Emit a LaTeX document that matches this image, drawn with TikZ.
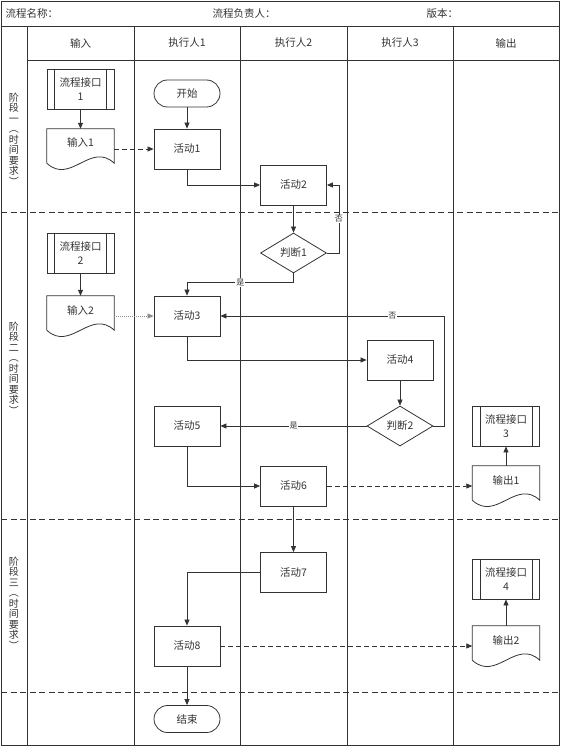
\documentclass[tikz,border=0pt]{standalone}
\usepackage{fontspec}
\setmainfont{Noto Sans CJK SC}
\usetikzlibrary{arrows.meta,shapes.geometric,calc}
\definecolor{ln}{HTML}{333333}
\newcommand\pdbars[1]{\draw[ln,line width=0.8pt] ($(#1.north west)+(8,0)$) -- ($(#1.south west)+(8,0)$) ($(#1.north east)+(-8,0)$) -- ($(#1.south east)+(-8,0)$);}
\newcommand\docshape[1]{\draw[ln,line width=0.8pt] (#1.north west) -- ($(#1.south west)+(0,-6)$) .. controls +(23.5,22) and +(-23.5,-22) .. ($(#1.south east)+(0,-6)$) -- (#1.north east) -- cycle;}
\begin{document}
\begin{tikzpicture}[x=1pt,y=-1pt,
  every node/.style={font=\fontsize{10.5}{13}\selectfont, text=ln},
  grid/.style={draw=ln, line width=0.8pt},
  phase/.style={draw=ln, line width=0.8pt, dash pattern=on 6pt off 3.5pt},
  box/.style={draw=ln, line width=0.8pt, minimum width=66pt, minimum height=40pt, inner sep=0pt},
  term/.style={box, minimum height=27pt, rounded corners=13.5pt},
  dec/.style={draw=ln, line width=0.8pt, diamond, aspect=1.65, inner sep=0pt, minimum width=66pt, minimum height=40pt},
  predef/.style={box, minimum width=67pt, align=center, font=\fontsize{10.5}{14}\selectfont},
  docu/.style={minimum width=67pt, minimum height=40pt, inner sep=0pt, text height=8pt, text depth=12pt},
  arr/.style={draw=ln, line width=0.7pt, -{Triangle[length=6pt,width=5pt]}},
  darr/.style={arr, dash pattern=on 5pt off 3pt},
  dotarr/.style={arr, draw=black!45, dash pattern=on 1pt off 1pt},
  lbl/.style={fill=white, inner sep=0.8pt, font=\fontsize{8}{9}\selectfont},
  hdr/.style={anchor=west, font=\fontsize{10.5}{12}\selectfont},
  vlab/.style={align=center, font=\fontsize{10}{10.5}\selectfont}
]
\useasboundingbox (0,0) rectangle (560,746);
% frame and grid
\draw[grid] (1,1) rectangle (559,745);
\draw[grid] (1,26) -- (559,26);
\draw[grid] (27,60) -- (559,60);
\foreach \x in {27,134,240,347,453} \draw[grid] (\x,26) -- (\x,745);
\foreach \y in {212.5,519.5,692} \draw[phase] (1,\y) -- (559,\y);
% header texts
\node[hdr] (h1) at (2,14) {流程名称：};
\node[hdr] (h2) at (209,14) {流程负责人：};
\node[hdr] (h3) at (423,14) {版本：};
% column headers
\node (c1) at (80.5,43) {输入};
\node (c2) at (187,43) {执行人1};
\node (c3) at (293.5,43) {执行人2};
\node (c4) at (400,43) {执行人3};
\node (c5) at (506,43) {输出};
% phase labels
\node[vlab] (p1) at (14,139) {阶\\段\\一\\︵\\时\\间\\要\\求\\︶};
\node[vlab] (p2) at (14,368) {阶\\段\\二\\︵\\时\\间\\要\\求\\︶};
\node[vlab] (p3) at (14,603) {阶\\段\\三\\︵\\时\\间\\要\\求\\︶};
% nodes
\node[predef] (pi1) at (80.5,89) {流程接口\\1};
\pdbars{pi1}
\node[docu] (in1) at (80.5,149) {输入1};
\docshape{in1}
\node[term] (st) at (187,93.5) {开始};
\node[box] (a1) at (187,149) {活动1};
\node[box] (a2) at (293.5,185) {活动2};
\node[dec] (j1) at (293.5,253) {判断1};
\node[predef] (pi2) at (80.5,253) {流程接口\\2};
\pdbars{pi2}
\node[docu] (in2) at (80.5,316) {输入2};
\docshape{in2}
\node[box] (a3) at (187,316) {活动3};
\node[box] (a4) at (400,360) {活动4};
\node[dec] (j2) at (400,426) {判断2};
\node[box] (a5) at (187,426) {活动5};
\node[box] (a6) at (293.5,486) {活动6};
\node[predef] (pi3) at (506,426) {流程接口\\3};
\pdbars{pi3}
\node[docu] (out1) at (506,486) {输出1};
\docshape{out1}
\node[box] (a7) at (293.5,572.5) {活动7};
\node[box] (a8) at (187,646) {活动8};
\node[predef] (pi4) at (506,579) {流程接口\\4};
\pdbars{pi4}
\node[docu] (out2) at (506,646) {输出2};
\docshape{out2}
\node[term] (fin) at (187,719) {结束};
% connectors
\draw[arr] (pi1.south) -- (in1.north);
\draw[arr] (st.south) -- (a1.north);
\draw[darr] (in1.east) -- (a1.west);
\draw[arr] (a1.south) |- (a2.west);
\draw[arr] (a2.south) -- (j1.north);
\draw[arr] (j1.east) -- ++(12,0) |- node[lbl,pos=0.25]{否} (a2.east);
\draw[arr] (j1.south) -- ++(0,9) -| node[lbl,pos=0.25]{是} (a3.north);
\draw[arr] (pi2.south) -- (in2.north);
\draw[dotarr] (in2.east) -- (a3.west);
\draw[arr] (a3.south) |- (a4.west);
\draw[arr] (a4.south) -- (j2.north);
\draw[arr] (j2.east) -- ++(11,0) |- node[lbl,pos=0.616]{否} (a3.east);
\draw[arr] (j2.west) -- node[lbl]{是} (a5.east);
\draw[arr] (a5.south) |- (a6.west);
\draw[darr] (a6.east) -- (out1.west);
\draw[arr] (out1.north) -- (pi3.south);
\draw[arr] (a6.south) -- (a7.north);
\draw[arr] (a7.west) -| (a8.north);
\draw[darr] (a8.east) -- (out2.west);
\draw[arr] (out2.north) -- (pi4.south);
\draw[arr] (a8.south) -- (fin.north);
\end{tikzpicture}
\end{document}
